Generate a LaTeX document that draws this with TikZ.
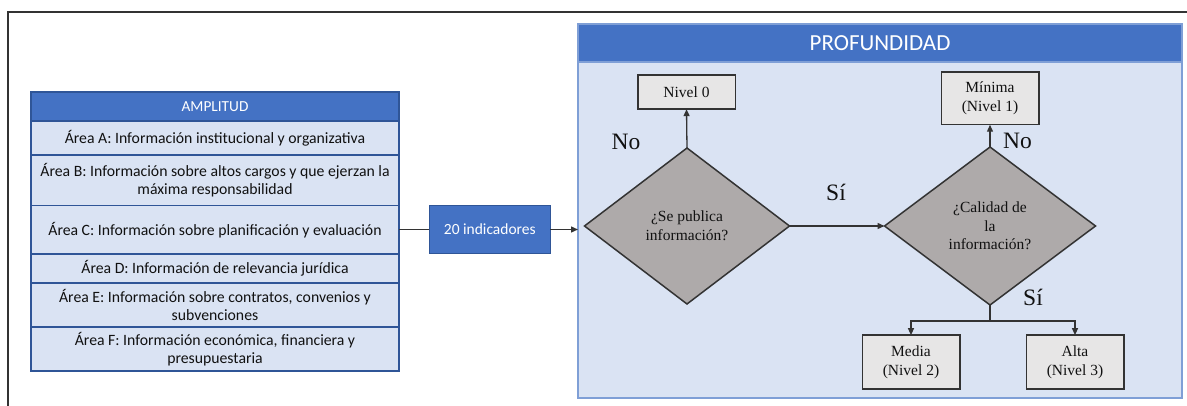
\documentclass[tikz,border=0pt]{standalone}
\usepackage{fontspec}
\setmainfont{Liberation Serif}
\newfontfamily\calibrifont{Carlito}
\usetikzlibrary{shapes.geometric,arrows.meta}
\definecolor{hblue}{HTML}{4472C4}
\definecolor{lblue}{HTML}{DAE3F3}
\definecolor{tborder}{HTML}{2F5597}
\definecolor{pborder}{HTML}{7F9FD6}
\definecolor{dgray}{HTML}{AEAAAA}
\definecolor{bgray}{HTML}{E7E6E6}
\definecolor{ink}{HTML}{111111}
\definecolor{lineink}{HTML}{333333}
\begin{document}
\begin{tikzpicture}[x=1pt,y=-1pt,
  tabrow/.style={draw=tborder, fill=lblue, line width=1.2pt, minimum width=368pt,
    inner sep=0pt, outer sep=0pt, anchor=north west, align=center, text=ink,
    font=\calibrifont\fontsize{15.75}{18.3}\selectfont},
  tabhead/.style={tabrow, fill=hblue, text=white, font=\calibrifont\fontsize{15.3}{18.3}\selectfont},
  bluebox/.style={draw=tborder, fill=hblue, line width=1.2pt, inner sep=0pt, outer sep=0pt,
    text=white, font=\calibrifont\fontsize{15.5}{18}\selectfont},
  flowbox/.style={draw=lineink, fill=bgray, line width=1.5pt, inner sep=0pt, outer sep=0pt,
    minimum width=97.5pt, align=center, text=ink, font=\fontsize{15.5}{19}\selectfont},
  decision/.style={diamond, draw=lineink, fill=dgray, line width=1.5pt, inner sep=0pt,
    outer sep=0pt, aspect=1.31, align=center, text=ink, font=\fontsize{15.5}{18.7}\selectfont},
  answer/.style={text=ink, inner sep=0pt, font=\fontsize{23.5}{26}\selectfont},
  conn/.style={draw=lineink, line width=1.3pt},
  arr/.style={conn, -{Triangle[length=7pt,width=6pt]}}
]
\useasboundingbox (0,0) rectangle (1187,406);
% outer frame
\draw[draw=lineink, line width=1.3pt] (8,406) |- (1187,12);

% AMPLITUD table
\node[tabhead, minimum height=29pt] (head) at (31,92) {AMPLITUD};
\node[tabrow, minimum height=34pt] (ra) at (31,121) {Área A: Información institucional y organizativa};
\node[tabrow, minimum height=50.5pt] (rb) at (31,155) {Área B: Información sobre altos cargos y que ejerzan la\\máxima responsabilidad};
\node[tabrow, minimum height=48.5pt] (rc) at (31,205.5) {Área C: Información sobre planificación y evaluación};
\node[tabrow, minimum height=29pt] (rd) at (31,254) {Área D: Información de relevancia jurídica};
\node[tabrow, minimum height=44pt] (re) at (31,283) {Área E: Información sobre contratos, convenios y\\subvenciones};
\node[tabrow, minimum height=44pt] (rf) at (31,327) {Área F: Información económica, financiera y\\presupuestaria};

% 20 indicadores
\node[bluebox, minimum width=121pt, minimum height=48.5pt] (ind) at (489.8,229.5) {20 indicadores};

% PROFUNDIDAD panel
\node[draw=pborder, fill=lblue, line width=1.2pt, inner sep=0pt, outer sep=0pt,
  minimum width=604pt, minimum height=374pt, anchor=north west] (panel) at (578,24) {};
\node[draw=pborder, fill=hblue, line width=1.2pt, inner sep=0pt, outer sep=0pt,
  minimum width=604pt, minimum height=38pt, anchor=north west, text=white,
  font=\calibrifont\fontsize{23}{26}\selectfont] (phead) at (578,24) {PROFUNDIDAD};

% flow
\node[decision, minimum width=205pt, minimum height=156pt] (d1) at (687,226) {¿Se publica\\información?};
\node[decision, minimum width=211pt, minimum height=158pt] (d2) at (990,226) {¿Calidad de\\la\\información?};
\node[flowbox, minimum height=34.3pt] (n0) at (686.5,92) {Nivel 0};
\node[flowbox, minimum height=52.7pt] (n1) at (990,98.4) {Mínima\\(Nivel 1)};
\node[flowbox, minimum height=53.7pt] (n2) at (911,362) {Media\\(Nivel 2)};
\node[flowbox, minimum height=53.7pt] (n3) at (1075,362) {Alta\\(Nivel 3)};

% labels
\node[answer] (no1) at (626,142) {No};
\node[answer] (si1) at (836,192) {Sí};
\node[answer] (no2) at (1017.5,141) {No};
\node[answer] (si2) at (1033,297) {Sí};

% connectors
\coordinate (pin) at (panel.west |- ind.east);
\coordinate (split) at (990,321);
\draw[conn] (rc.east |- ind.west) -- (ind.west);
\draw[arr] (ind.east) -- (pin);
\draw[arr] (d1.north) -- (n0.south);
\draw[arr] (d1.east) -- (d2.west);
\draw[arr] (d2.north) -- (n1.south);
\draw[conn] (d2.south) -- (split);
\draw[arr] (split) -| (n2.north);
\draw[arr] (split) -| (n3.north);
\end{tikzpicture}
\end{document}
